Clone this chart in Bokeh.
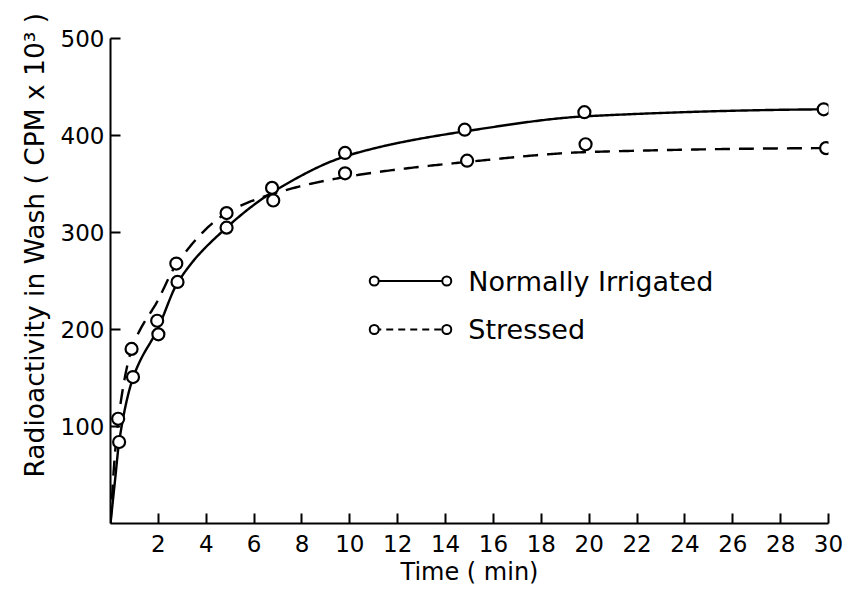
import numpy as np
from bokeh.plotting import figure
from bokeh.models import FixedTicker, Range1d, Title
from bokeh.core.properties import value
from bokeh.embed import file_html
from bokeh.resources import INLINE

# ---- data ----
normal_time = [0.36, 0.94, 2.0, 2.8, 4.85, 6.75, 9.8, 14.8, 19.8, 29.8]
normal_value = [84, 151, 195, 249, 305, 346, 382, 406, 424, 427]
stressed_time = [0.32, 0.88, 1.95, 2.75, 4.85, 6.8, 9.8, 14.9, 19.85, 29.9]
stressed_value = [108, 180, 209, 268, 320, 333, 361, 374, 391, 387]

# smooth curves drawn by hand through the data
normal_curve_t = [0, 0.2, 0.36, 0.94, 2.0, 2.8, 4.85, 6.8, 10, 15, 20, 30]
normal_curve_v = [0, 47, 84, 150, 202, 248, 305, 342, 380, 405, 420, 427]
stressed_curve_t = [0, 0.15, 0.32, 0.88, 2.0, 2.75, 4.85, 6.8, 10, 15, 20, 30]
stressed_curve_v = [0, 60, 106, 179, 231, 267, 320, 340, 358, 373, 383, 387]

x_ticks = [2, 4, 6, 8, 10, 12, 14, 16, 18, 20, 22, 24, 26, 28, 30]
y_ticks = [100, 200, 300, 400, 500]
legend_labels = ["Normally Irrigated", "Stressed"]

FONT = "DejaVu Sans"


def pchip(xk, yk, xs):
    xk = np.asarray(xk, float)
    yk = np.asarray(yk, float)
    h = np.diff(xk)
    d = np.diff(yk) / h
    n = len(xk)
    m = np.zeros(n)
    for i in range(1, n - 1):
        if d[i - 1] * d[i] > 0:
            w1 = 2 * h[i] + h[i - 1]
            w2 = h[i] + 2 * h[i - 1]
            m[i] = (w1 + w2) / (w1 / d[i - 1] + w2 / d[i])
    m[0] = d[0]
    m[-1] = d[-1] * 0.2
    out = np.empty_like(xs)
    idx = np.clip(np.searchsorted(xk, xs) - 1, 0, n - 2)
    for j, x in enumerate(xs):
        i = idx[j]
        t = (x - xk[i]) / h[i]
        h00 = 2 * t**3 - 3 * t**2 + 1
        h10 = t**3 - 2 * t**2 + t
        h01 = -2 * t**3 + 3 * t**2
        h11 = t**3 - t**2
        out[j] = h00 * yk[i] + h10 * h[i] * m[i] + h01 * yk[i + 1] + h11 * h[i] * m[i + 1]
    return out


p = figure(width=843, height=588, output_backend="svg", toolbar_location=None,
           x_range=Range1d(0, 30), y_range=Range1d(0, 500),
           min_border_left=110, min_border_right=15, min_border_top=38,
           min_border_bottom=62)
p.outline_line_color = None
p.xgrid.visible = False
p.ygrid.visible = False
p.background_fill_color = "white"
p.border_fill_color = "white"

for ax in (p.xaxis[0], p.yaxis[0]):
    ax.axis_line_width = 2
    ax.axis_line_color = "black"
    ax.major_tick_line_width = 2
    ax.major_tick_line_color = "black"
    ax.major_tick_in = 10
    ax.major_tick_out = 0
    ax.minor_tick_line_color = None
    ax.major_label_text_font = FONT
    ax.major_label_text_font_size = "23px"
    ax.major_label_text_color = "black"

p.xaxis.ticker = FixedTicker(ticks=x_ticks)
p.yaxis.ticker = FixedTicker(ticks=y_ticks)
p.xaxis.major_label_standoff = 11
p.yaxis.major_label_standoff = 6
p.xaxis.axis_label = "Time ( min)"
p.xaxis.axis_label_text_font = FONT
p.xaxis.axis_label_text_font_size = "24px"
p.xaxis.axis_label_text_font_style = "normal"
p.xaxis.axis_label_text_color = "black"
p.xaxis.axis_label_standoff = 3

ytitle = Title(text="Radioactivity in Wash ( CPM x 10³ )", align="left", offset=46,
               text_font=FONT, text_font_size="26.5px", text_font_style="normal",
               text_color="black", standoff=15)
p.add_layout(ytitle, "left")

xs_n = np.concatenate([np.linspace(0, 1, 200), np.linspace(1.01, 30, 400)])
p.line(xs_n, pchip(normal_curve_t, normal_curve_v, xs_n), line_color="black", line_width=2.4)
p.line(xs_n, pchip(stressed_curve_t, stressed_curve_v, xs_n), line_color="black",
       line_width=2.4, line_dash="15 9")

p.scatter(normal_time, normal_value, marker="circle", size=12, fill_color="white",
          line_color="black", line_width=2.2)
p.scatter(stressed_time, stressed_value, marker="circle", size=12, fill_color="white",
          line_color="black", line_width=2.2)

# manual legend
leg_x0, leg_x1, leg_tx = 11.02, 14.05, 14.95
leg_y = [250, 200]
dashes = ["solid", "7 5"]
for yy, lab, dsh in zip(leg_y, legend_labels, dashes):
    p.line([leg_x0, leg_x1], [yy, yy], line_color="black", line_width=2.2, line_dash=dsh)
    p.scatter([leg_x0, leg_x1], [yy, yy], marker="circle", size=9, fill_color="white",
              line_color="black", line_width=2)
    p.text([leg_tx], [yy], text=[lab], text_font=value(FONT), text_font_size="27px",
           text_baseline="middle", text_align="left", text_color="black")

open("out.html", "w").write(file_html(p, INLINE))
